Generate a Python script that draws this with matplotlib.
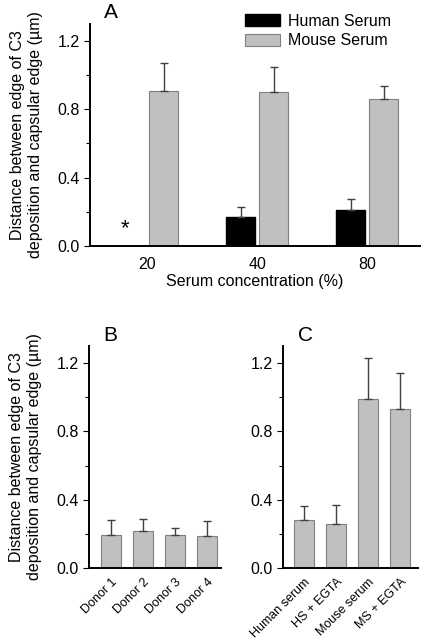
import numpy as np
import matplotlib.pyplot as plt

plt.rcParams['font.family'] = ['Liberation Sans', 'DejaVu Sans']

# Panel A: serum concentration
conc_labels = ['20', '40', '80']
human_mean = [np.nan, 0.172, 0.21]
human_err = [0, 0.055, 0.065]
mouse_mean = [0.904, 0.90, 0.859]
mouse_err = [0.166, 0.145, 0.078]

# Panel B: donors
donor_labels = ['Donor 1', 'Donor 2', 'Donor 3', 'Donor 4']
donor_mean = [0.193, 0.217, 0.193, 0.19]
donor_err = [0.088, 0.068, 0.040, 0.085]

# Panel C: serum / EGTA
cond_labels = ['Human serum', 'HS + EGTA', 'Mouse serum', 'MS + EGTA']
cond_mean = [0.281, 0.258, 0.989, 0.930]
cond_err = [0.082, 0.111, 0.244, 0.211]

GRAY = '#c0c0c0'
EDGE = '#808080'
ERR = dict(ecolor='#404040', elinewidth=1.0, capsize=3, capthick=1.0)
YLABEL = 'Distance between edge of C3\ndeposition and capsular edge (µm)'
FS = 11.5

fig = plt.figure(figsize=(4.25, 6.41), dpi=100)


def style(ax):
    ax.spines['top'].set_visible(False)
    ax.spines['right'].set_visible(False)
    ax.spines['left'].set_linewidth(1.4)
    ax.spines['bottom'].set_linewidth(1.4)
    ax.set_ylim(0, 1.3)
    ax.set_yticks([0, 0.4, 0.8, 1.2])
    ax.set_yticklabels(['0.0', '0.4', '0.8', '1.2'])
    ax.set_yticks([0.2, 0.6, 1.0], minor=True)
    ax.tick_params(axis='y', direction='out', length=4, width=0.8, labelsize=FS)
    ax.tick_params(axis='y', which='minor', direction='out', length=3, width=0.8)
    ax.tick_params(axis='x', length=0)


# ---- A ----
axA = fig.add_axes([0.212, 0.616, 0.776, 0.347])
x = np.arange(len(conc_labels))
w = 0.26
off = 0.15
axA.bar(x - off, human_mean, w, color='black', edgecolor='black', label='Human Serum')
axA.errorbar(x - off, human_mean, yerr=[np.zeros(3), human_err], fmt='none', **ERR)
axA.bar(x + off, mouse_mean, w, color=GRAY, edgecolor=EDGE, linewidth=0.8, label='Mouse Serum')
axA.errorbar(x + off, mouse_mean, yerr=[np.zeros(3), mouse_err], fmt='none', **ERR)
axA.text(x[0] - 0.2, 0.10, '*', ha='center', va='center', fontsize=16)
axA.set_xlim(-0.52, 2.48)
axA.set_xticks(x)
axA.set_xticklabels(conc_labels, fontsize=FS)
axA.tick_params(axis='x', pad=8)
axA.set_xlabel('Serum concentration (%)', fontsize=FS, labelpad=1)
axA.set_ylabel(YLABEL, fontsize=FS, labelpad=10, linespacing=1.25)
axA.legend(loc='upper left', bbox_to_anchor=(0.47, 1.045), frameon=False, fontsize=FS,
           handlelength=2.2, handleheight=0.75, labelspacing=0.3, handletextpad=0.5,
           borderaxespad=0, borderpad=0)
axA.text(0.064, 1.05, 'A', transform=axA.transAxes, fontsize=15, va='center', ha='center')
style(axA)

# ---- B ----
axB = fig.add_axes([0.209, 0.114, 0.311, 0.346])
xb = np.arange(len(donor_labels))
axB.bar(xb, donor_mean, 0.63, color=GRAY, edgecolor=EDGE, linewidth=0.8)
axB.errorbar(xb, donor_mean, yerr=[np.zeros(4), donor_err], fmt='none', **ERR)
axB.set_xlim(-0.69, 3.44)
axB.set_xticks(xb)
axB.set_xticklabels(donor_labels, rotation=45, ha='right', rotation_mode='anchor', fontsize=9)
axB.tick_params(axis='x', pad=6)
axB.set_ylabel(YLABEL, fontsize=FS, labelpad=10, linespacing=1.25)
axB.text(0.16, 1.05, 'B', transform=axB.transAxes, fontsize=15, va='center', ha='center')
style(axB)

# ---- C ----
axC = fig.add_axes([0.666, 0.114, 0.318, 0.346])
xc = np.arange(len(cond_labels))
axC.bar(xc, cond_mean, 0.63, color=GRAY, edgecolor=EDGE, linewidth=0.8)
axC.errorbar(xc, cond_mean, yerr=[np.zeros(4), cond_err], fmt='none', **ERR)
axC.set_xlim(-0.66, 3.56)
axC.set_xticks(xc)
axC.set_xticklabels(cond_labels, rotation=45, ha='right', rotation_mode='anchor', fontsize=9)
axC.tick_params(axis='x', pad=6)
axC.text(0.163, 1.05, 'C', transform=axC.transAxes, fontsize=15, va='center', ha='center')
style(axC)

fig.savefig('out.png', dpi=100)
